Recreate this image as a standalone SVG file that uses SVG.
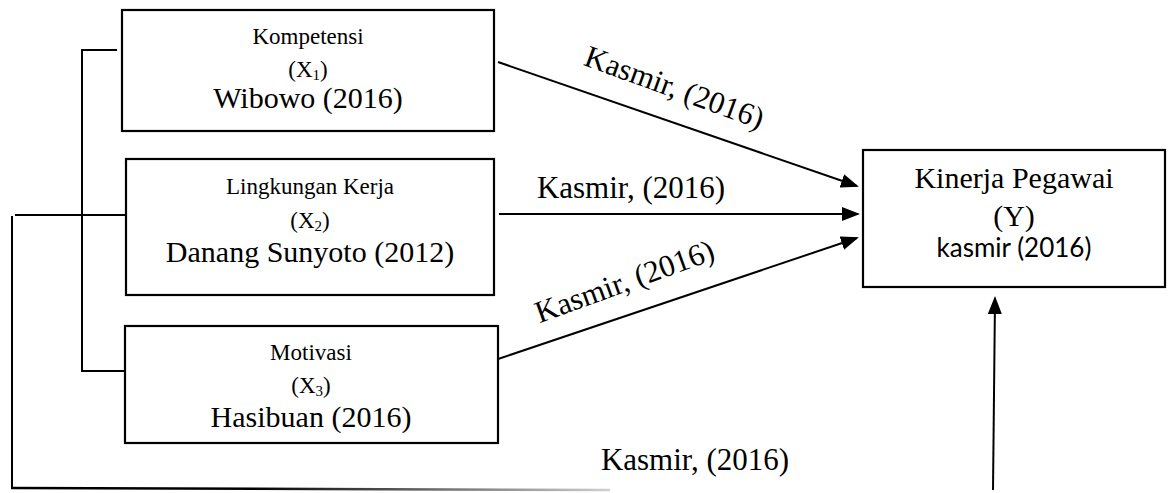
<svg xmlns="http://www.w3.org/2000/svg" width="1168" height="493" viewBox="0 0 1168 493">
<style>
.box{fill:#fff;stroke:#000;stroke-width:2.2}
.ln{fill:none;stroke:#000;stroke-width:2}
.s{font-family:"Liberation Serif","Times New Roman",serif;font-size:23px;fill:#000;text-anchor:middle}
.b{font-family:"Liberation Serif","Times New Roman",serif;font-size:30px;fill:#000;text-anchor:middle}
.k{font-family:"Liberation Serif","Times New Roman",serif;font-size:31px;fill:#000;text-anchor:middle}
.c{font-family:Lato,"Open Sans",sans-serif;font-size:26px;fill:#000;text-anchor:middle}
.sub{font-size:15px}
</style>
<defs>
<marker id="ah" markerWidth="18" markerHeight="14" refX="16" refY="7" orient="auto" markerUnits="userSpaceOnUse">
<path d="M0,0 L18,7 L0,14 Z" fill="#000"/>
</marker>
<linearGradient id="fade" gradientUnits="userSpaceOnUse" x1="12" y1="0" x2="610" y2="0">
<stop offset="0.4" stop-color="#000"/>
<stop offset="1" stop-color="#d0d0d0"/>
</linearGradient>
</defs>
<g id="connectors">
<polyline class="ln" points="117,50 82,50 82,371 130,371"/>
<line class="ln" x1="15" y1="215" x2="126" y2="215"/>
<line class="ln" x1="12" y1="216" x2="12" y2="489"/>
<line x1="11" y1="488" x2="610" y2="490" stroke="url(#fade)" stroke-width="2.5"/>
<line class="ln" x1="498" y1="62" x2="857" y2="186" marker-end="url(#ah)"/>
<line class="ln" x1="499" y1="214" x2="858" y2="214" marker-end="url(#ah)"/>
<line class="ln" x1="498" y1="359" x2="857" y2="238" marker-end="url(#ah)"/>
<line class="ln" x1="993" y1="490" x2="995" y2="298" marker-end="url(#ah)"/>
<text class="k" transform="translate(671,97) rotate(20)">Kasmir, (2016)</text>
<text class="k" x="631" y="198">Kasmir, (2016)</text>
<text class="k" transform="translate(628,291) rotate(-20)">Kasmir, (2016)</text>
<text class="k" x="695" y="470">Kasmir, (2016)</text>
</g>
<g id="x1">
<rect class="box" x="122" y="10" width="372" height="121"/>
<text class="s" x="308" y="44">Kompetensi</text>
<text class="s" x="308" y="77">(X<tspan class="sub" dy="3">1</tspan><tspan dy="-3">)</tspan></text>
<text class="b" x="308" y="108">Wibowo (2016)</text>
</g>
<g id="x2">
<rect class="box" x="126" y="159" width="368" height="136"/>
<text class="s" x="310" y="194">Lingkungan Kerja</text>
<text class="s" x="310" y="228">(X<tspan class="sub" dy="3">2</tspan><tspan dy="-3">)</tspan></text>
<text class="b" x="310" y="262">Danang Sunyoto (2012)</text>
</g>
<g id="x3">
<rect class="box" x="125" y="326" width="373" height="117"/>
<text class="s" x="311" y="360">Motivasi</text>
<text class="s" x="311" y="393">(X<tspan class="sub" dy="3">3</tspan><tspan dy="-3">)</tspan></text>
<text class="b" x="311" y="427">Hasibuan (2016)</text>
</g>
<g id="y">
<rect class="box" x="863" y="150" width="302" height="137"/>
<text class="b" x="1014" y="188">Kinerja Pegawai</text>
<text class="b" x="1014" y="226">(Y)</text>
<text class="c" x="1014" y="257">kasmir (2016)</text>
</g>
</svg>
